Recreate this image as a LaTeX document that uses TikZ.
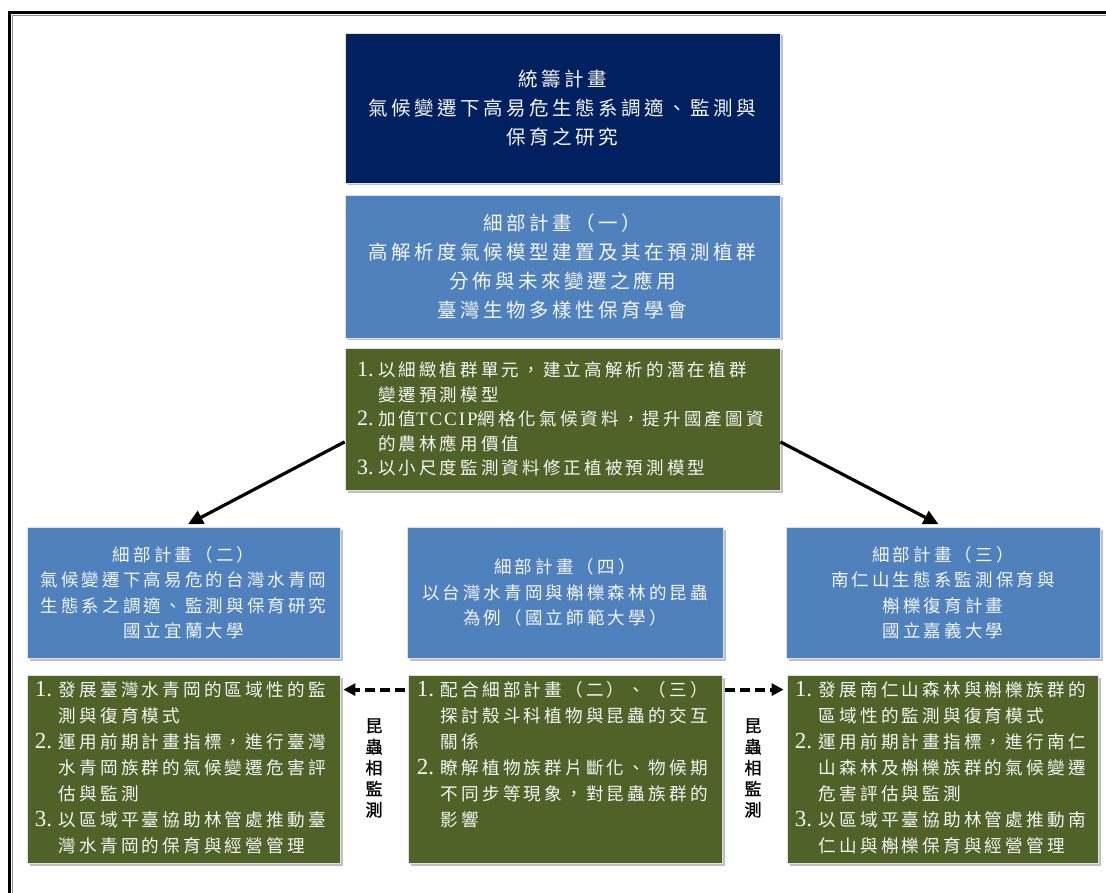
\documentclass[tikz,border=0pt]{standalone}
\usepackage{fontspec}
\setmainfont{Liberation Serif}
\newfontfamily\cjk{Noto Sans CJK TC}[LetterSpace=18]
\newfontfamily\cjkv{Noto Sans CJK TC}[FakeBold=1.2]
\newfontfamily\latn{Liberation Serif}
\newfontfamily\latnsp{Liberation Serif}[LetterSpace=10]
\usetikzlibrary{arrows.meta,shadows}
\definecolor{navy}{RGB}{0,32,96}
\definecolor{pblue}{RGB}{79,129,189}
\definecolor{pgreen}{RGB}{79,98,40}
\definecolor{ptext}{RGB}{245,245,245}
\newcommand\itemno[1]{\makebox[24pt][l]{\latn\fontsize{23}{26}\selectfont #1}}
\newcommand\contin{\hspace*{24pt}}
\newcommand\itemnos[1]{\makebox[21pt][l]{\latn\fontsize{22}{26}\selectfont #1}}
\newcommand\contins{\hspace*{21pt}}
\tikzset{
  pbox/.style={draw=black!12, line width=0.8pt, text=ptext, align=center, inner sep=0pt,
    drop shadow={shadow xshift=2.5pt, shadow yshift=-2.5pt, fill=black, opacity=0.25}},
  bigfont/.style={font=\cjk\fontsize{19.5}{29}\selectfont},
  midfont/.style={font=\cjk\fontsize{17.5}{25.5}\selectfont},
  gfont/.style={font=\cjk\fontsize{17.6}{26}\selectfont},
  g1font/.style={font=\cjk\fontsize{17.5}{24.5}\selectfont},
  gtext/.style={text=ptext, align=left, inner sep=0pt, text width=300pt, gfont},
  vlabel/.style={align=center, inner sep=0pt, text=black, font=\cjkv\fontsize{17}{21}\selectfont},
  mainarrow/.style={line width=3.2pt, -{Triangle[length=15pt,width=14pt]}, shorten >=5pt},
  dasharrow/.style={line width=4pt, dash pattern=on 10pt off 5pt, -{Triangle[length=12pt,width=12pt]}, shorten >=3pt, shorten <=3pt}
}
\begin{document}
\begin{tikzpicture}[x=1pt,y=-1pt]
\useasboundingbox (0,0) rectangle (1106,893);
\fill[white] (0,0) rectangle (1106,893);
% frame
\draw[black!45, line width=1pt] (12,893) -- (12,16) -- (1106,16);
\draw[black, line width=3pt] (9.5,893) -- (9.5,13) -- (1106,13);

% top
\node[pbox, fill=navy, minimum width=435pt, minimum height=150pt, bigfont] (top) at (562.5,108)
  {統籌計畫\\氣候變遷下高易危生態系調適、監測與\\保育之研究};
\node[pbox, fill=pblue, minimum width=435pt, minimum height=143pt, bigfont] (b1) at (562.5,266.5)
  {細部計畫（一）\\高解析度氣候模型建置及其在預測植群\\分佈與未來變遷之應用\\臺灣生物多樣性保育學會};
\node[pbox, fill=pgreen, minimum width=435pt, minimum height=142pt, align=left, text width=411pt, g1font] (g1) at (562.5,419)
  {\itemnos{1.}以細緻植群單元，建立高解析的潛在植群\\
   \contins 變遷預測模型\\
   \itemnos{2.}加值{\latnsp\fontsize{19}{24}\selectfont TCCIP}網格化氣候資料，提升國產圖資\\
   \contins 的農林應用價值\\
   \itemnos{3.}以小尺度監測資料修正植被預測模型};

% second level blue
\node[pbox, fill=pblue, minimum width=313pt, minimum height=131pt, midfont] (b2) at (183.5,592.5)
  {細部計畫（二）\\氣候變遷下高易危的台灣水青岡\\生態系之調適、監測與保育研究\\國立宜蘭大學};
\node[pbox, fill=pblue, minimum width=316pt, minimum height=131pt, midfont] (b4) at (565,592.5)
  {細部計畫（四）\\以台灣水青岡與槲櫟森林的昆蟲\\為例（國立師範大學）};
\node[pbox, fill=pblue, minimum width=314pt, minimum height=131pt, midfont] (b3) at (943,592.5)
  {細部計畫（三）\\南仁山生態系監測保育與\\槲櫟復育計畫\\國立嘉義大學};

% second level green
\node[pbox, fill=pgreen, minimum width=313pt, minimum height=188pt] (g2) at (183.5,769) {};
\node[pbox, fill=pgreen, minimum width=314pt, minimum height=188pt] (g4) at (565,769) {};
\node[pbox, fill=pgreen, minimum width=311pt, minimum height=188pt] (g3) at (942.5,769) {};

\node[gtext, anchor=north west] (t2) at ([shift={(8pt,-7pt)}]g2.north west)
  {\itemno{1.}發展臺灣水青岡的區域性的監\\
   \contin 測與復育模式\\
   \itemno{2.}運用前期計畫指標，進行臺灣\\
   \contin 水青岡族群的氣候變遷危害評\\
   \contin 估與監測\\
   \itemno{3.}以區域平臺協助林管處推動臺\\
   \contin 灣水青岡的保育與經營管理};
\node[gtext, anchor=north west] (t4) at ([shift={(9pt,-7pt)}]g4.north west)
  {\itemno{1.}配合細部計畫（二）、（三）\\
   \contin 探討殼斗科植物與昆蟲的交互\\
   \contin 關係\\
   \itemno{2.}瞭解植物族群片斷化、物候期\\
   \contin 不同步等現象，對昆蟲族群的\\
   \contin 影響};
\node[gtext, anchor=north west] (t3) at ([shift={(8pt,-7pt)}]g3.north west)
  {\itemno{1.}發展南仁山森林與槲櫟族群的\\
   \contin 區域性的監測與復育模式\\
   \itemno{2.}運用前期計畫指標，進行南仁\\
   \contin 山森林及槲櫟族群的氣候變遷\\
   \contin 危害評估與監測\\
   \itemno{3.}以區域平臺協助林管處推動南\\
   \contin 仁山與槲櫟保育與經營管理};

% vertical labels
\node[vlabel] (lab1) at (374,768) {昆\\蟲\\相\\監\\測};
\node[vlabel] (lab2) at (753,768) {昆\\蟲\\相\\監\\測};

% arrows
\draw[mainarrow] (g1.186.3) -- (b2.north);
\draw[mainarrow] (g1.-6.3) -- (b3.north);
\draw[dasharrow] ([yshift=-15pt]g4.north west) -- ([yshift=-15pt]g2.north east);
\draw[dasharrow] ([yshift=-15pt]g4.north east) -- ([yshift=-15pt]g3.north west);
\end{tikzpicture}
\end{document}
